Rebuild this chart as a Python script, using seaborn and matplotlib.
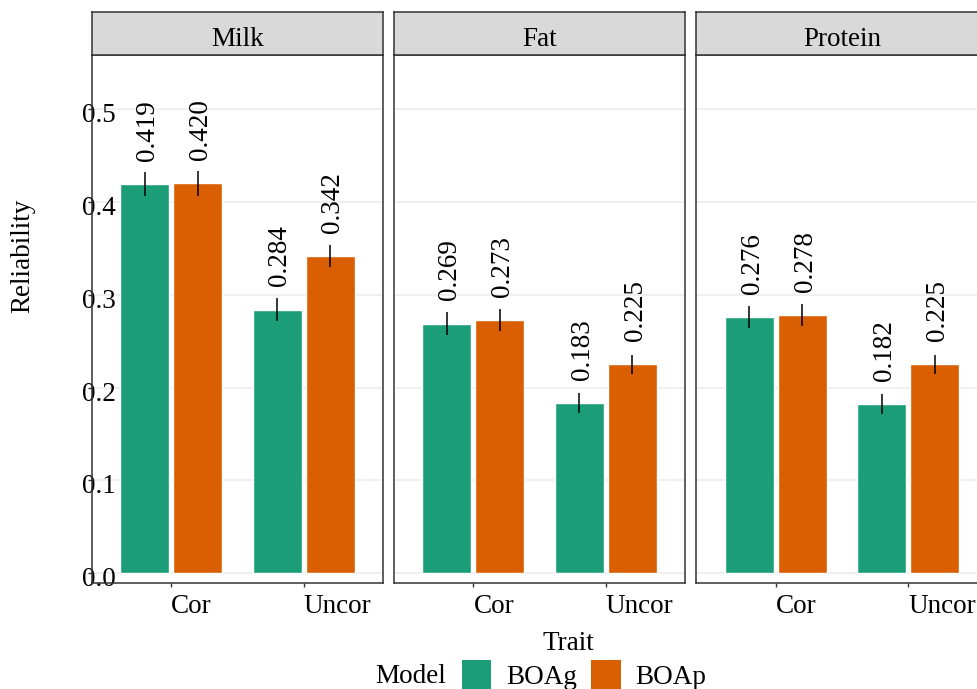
import numpy as np
import pandas as pd
import matplotlib.pyplot as plt
import seaborn as sns
from matplotlib.patches import Patch
from matplotlib.transforms import ScaledTranslation

traits = ['Milk', 'Fat', 'Protein']
scenarios = ['Cor', 'Uncor']
models = ['BOAg', 'BOAp']

# values in order: Cor/BOAg, Cor/BOAp, Uncor/BOAg, Uncor/BOAp
milk_rel = [0.419, 0.420, 0.284, 0.342]
fat_rel = [0.269, 0.273, 0.183, 0.225]
protein_rel = [0.276, 0.278, 0.182, 0.225]
milk_se = [0.013, 0.013, 0.012, 0.012]
fat_se = [0.012, 0.012, 0.011, 0.010]
protein_se = [0.012, 0.012, 0.011, 0.010]

y_ticks = [0.0, 0.1, 0.2, 0.3, 0.4, 0.5]
palette = {'BOAg': '#1B9E77', 'BOAp': '#D95F02'}

rows = []
for trait, rel, se in zip(traits, [milk_rel, fat_rel, protein_rel], [milk_se, fat_se, protein_se]):
    k = 0
    for scen in scenarios:
        for m in models:
            rows.append({'Trait': trait, 'Scenario': scen, 'Model': m,
                         'Reliability': rel[k], 'SE': se[k]})
            k += 1
df = pd.DataFrame(rows)

sns.set_theme(style='white')
plt.rcParams['font.family'] = ['Liberation Serif', 'DejaVu Serif']
plt.rcParams['text.color'] = 'black'
plt.rcParams['axes.labelcolor'] = 'black'
FS = 19.5
EDGE = '#333333'

W, H = 978, 689
fig = plt.figure(figsize=(W / 100, H / 100), dpi=100)


def px_box(left, top, right, bottom):
    return [left / W, 1 - bottom / H, (right - left) / W, (bottom - top) / H]


for i, trait in enumerate(traits):
    left = 91.7 + i * 302.3
    right = left + 291.3
    ax = fig.add_axes(px_box(left, 54.5, right, 583))
    sub = df[df['Trait'] == trait]
    sns.barplot(data=sub, x='Scenario', y='Reliability', hue='Model',
                order=scenarios, hue_order=models, palette=palette,
                width=0.8, gap=0.075, errorbar=None, saturation=1,
                legend=False, ax=ax)

    for container, m in zip(ax.containers, models):
        for bar, scen in zip(container, scenarios):
            row = sub[(sub['Scenario'] == scen) & (sub['Model'] == m)].iloc[0]
            cx = bar.get_x() + bar.get_width() / 2
            h = bar.get_height()
            ax.errorbar(cx, h, yerr=row['SE'], color='black', lw=1.1, capsize=0)
            ax.text(cx + 0.022, h + 0.025, f"{row['Reliability']:.3f}", rotation=90,
                    ha='center', va='bottom', fontsize=FS, color='black')

    ax.set_xlim(-0.6, 1.6)
    ax.set_ylim(-0.0108, 0.5591)
    ax.set_yticks(y_ticks)
    ax.set_yticklabels([f'{t:.1f}' for t in y_ticks])
    ax.yaxis.grid(True, color='#EBEBEB', lw=1.1)
    ax.xaxis.grid(False)
    ax.set_axisbelow(True)
    ax.set_xlabel('')
    ax.set_ylabel('')
    for s in ax.spines.values():
        s.set_color(EDGE)
        s.set_linewidth(1.1)

    ax.tick_params(axis='x', bottom=True, length=2.9, width=1.0, color=EDGE,
                   pad=18.7, labelsize=FS, labelcolor='black')
    for lab in ax.get_xticklabels():
        lab.set_ha('left')
        lab.set_va('baseline')

    if i == 0:
        ax.tick_params(axis='y', left=True, length=2.9, width=1.0, color=EDGE,
                       pad=4.1, labelsize=FS, labelcolor='black')
        for lab in ax.get_yticklabels():
            lab.set_ha('left')
            lab.set_va('baseline')
            lab.set_transform(lab.get_transform() +
                              ScaledTranslation(0, -0.13, fig.dpi_scale_trans))
    else:
        ax.tick_params(axis='y', left=False, labelleft=False)

    sax = fig.add_axes(px_box(left, 12, right, 54.5))
    sax.set_facecolor('#D9D9D9')
    sax.set_xticks([])
    sax.set_yticks([])
    for s in sax.spines.values():
        s.set_color(EDGE)
        s.set_linewidth(1.1)
    sax.text(0.5, 0.2, trait, ha='center', va='baseline', fontsize=FS,
             transform=sax.transAxes)

fig.text(23 / W, 1 - 256 / H, 'Reliability', rotation=90, ha='center',
         va='center', fontsize=FS)
fig.text(568 / W, 1 - 650 / H, 'Trait', ha='center', va='baseline', fontsize=FS)
fig.text(375 / W, 1 - 683.3 / H, 'Model', ha='left', va='baseline', fontsize=FS)

handles = [Patch(facecolor=palette[m], edgecolor='none', label=m) for m in models]
fig.legend(handles=handles, loc='center left', bbox_to_anchor=(461.7 / W, 1 - 675 / H),
           ncol=2, frameon=False, borderpad=0, borderaxespad=0,
           handlelength=1.1, handleheight=1.27, handletextpad=0.53,
           columnspacing=0.53, fontsize=FS)

fig.savefig('out.png', dpi=100)
